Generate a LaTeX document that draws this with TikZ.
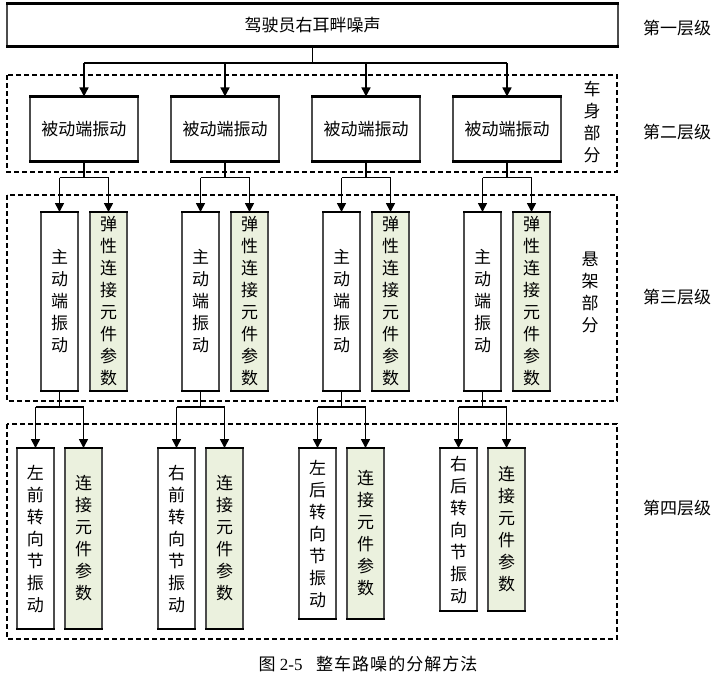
\documentclass[tikz,border=0pt]{standalone}
\usepackage{fontspec}
\setmainfont{Liberation Serif}
\newfontfamily\cjk{Noto Sans CJK SC}
\newfontfamily\cjkwide[LetterSpace=6]{Noto Sans CJK SC}
\usetikzlibrary{arrows.meta,calc}
\definecolor{paramfill}{RGB}{235,241,222}
\tikzset{
  x=1pt, y=-1pt,
  txt/.style={font=\cjk\fontsize{17}{22}\selectfont},
  box/.style={txt, draw=black!70, line width=1.1pt, fill=white, inner sep=0pt, align=center},
  hbox/.style={box, minimum width=108pt, minimum height=64pt},
  vbox/.style={box, minimum width=37pt, minimum height=#1, anchor=north},
  pbox/.style={vbox=#1, fill=paramfill},
  frame/.style={dashed, dash pattern=on 5pt off 3pt, line width=1.3pt},
  conn/.style={line width=1.6pt},
  arr/.style={conn, -{Triangle[width=9pt,length=9pt]}},
  label/.style={txt, align=center},
  edge/.style={line width=2.4pt}
}
\begin{document}
\begin{tikzpicture}
\useasboundingbox (0,0) rectangle (723,680);

% group frames
\draw[frame] (7,75) rectangle (617,172);
\draw[frame] (7,195) rectangle (617,401);
\draw[frame] (7,424) rectangle (617,639);

% level 1
\node[box, minimum width=611pt, minimum height=42pt] (top) at (312.5,25) {驾驶员右耳畔噪声};

% level 2
\foreach \i/\x in {1/84,2/225,3/366,4/507}
  \node[hbox] (b\i) at (\x,129) {被动端振动};

% level 3
\foreach \i/\x in {1/59.5,2/200.5,3/341.5,4/482.5}{
  \node[vbox=178pt] (m\i) at (\x,212) {主\\动\\端\\振\\动};
  \node[pbox=178pt] (e\i) at (\x+49,212) {弹\\性\\连\\接\\元\\件\\参\\数};
}

% level 4
\node[vbox=180pt] (k1) at (35.5,448) {左\\前\\转\\向\\节\\振\\动};
\node[pbox=180pt] (c1) at (83.5,448) {连\\接\\元\\件\\参\\数};
\node[vbox=180pt] (k2) at (176.5,448) {右\\前\\转\\向\\节\\振\\动};
\node[pbox=180pt] (c2) at (224.5,448) {连\\接\\元\\件\\参\\数};
\node[vbox=170pt] (k3) at (317.5,448) {左\\后\\转\\向\\节\\振\\动};
\node[pbox=170pt] (c3) at (365.5,448) {连\\接\\元\\件\\参\\数};
\node[vbox=162pt] (k4) at (458.5,448) {右\\后\\转\\向\\节\\振\\动};
\node[pbox=162pt] (c4) at (506.5,448) {连\\接\\元\\件\\参\\数};

% heavier top and bottom edges of every box
\foreach \n in {top,b1,b2,b3,b4,m1,m2,m3,m4,e1,e2,e3,e4,k1,k2,k3,k4,c1,c2,c3,c4}
  \draw[edge] (\n.north west) -- (\n.north east) (\n.south west) -- (\n.south east);

% connectors: level 1 -> level 2
\coordinate (j0) at (312.5,63);
\draw[conn] (top.south) -- (j0);
\draw[conn] (b1.north |- j0) -- (b4.north |- j0);
\foreach \i in {1,...,4}
  \draw[arr] (b\i.north |- j0) -- (b\i.north);

% level 2 -> level 3
\foreach \i in {1,...,4}{
  \coordinate (j\i) at ($(b\i.south)+(0,16)$);
  \draw[conn] (b\i.south) -- (j\i);
  \draw[conn] (m\i.north |- j\i) -- (e\i.north |- j\i);
  \draw[arr] (m\i.north |- j\i) -- (m\i.north);
  \draw[arr] (e\i.north |- j\i) -- (e\i.north);
}

% level 3 -> level 4
\foreach \i in {1,...,4}{
  \coordinate (q\i) at ($(m\i.south)+(0,16)$);
  \draw[conn] (m\i.south) -- (q\i);
  \draw[conn] (k\i.north |- q\i) -- (c\i.north |- q\i);
  \draw[arr] (k\i.north |- q\i) -- (k\i.north);
  \draw[arr] (c\i.north |- q\i) -- (c\i.north);
}

% side labels
\node[label] (part1) at (592,122) {\fontsize{17}{23}\selectfont 车\\身\\部\\分};
\node[label] (part2) at (590,292) {\fontsize{17}{21.5}\selectfont 悬\\架\\部\\分};
\node[label] (lv1) at (677,28) {第一层级};
\node[label] (lv2) at (677,132) {第二层级};
\node[label] (lv3) at (677,297) {第三层级};
\node[label] (lv4) at (677,508) {第四层级};

% caption
\node[font=\fontsize{17}{20}\selectfont] (cap) at (368,664) {{\cjk 图} 2-5\hspace{0.8em}{\cjkwide 整车路噪的分解方法}};
\end{tikzpicture}
\end{document}
